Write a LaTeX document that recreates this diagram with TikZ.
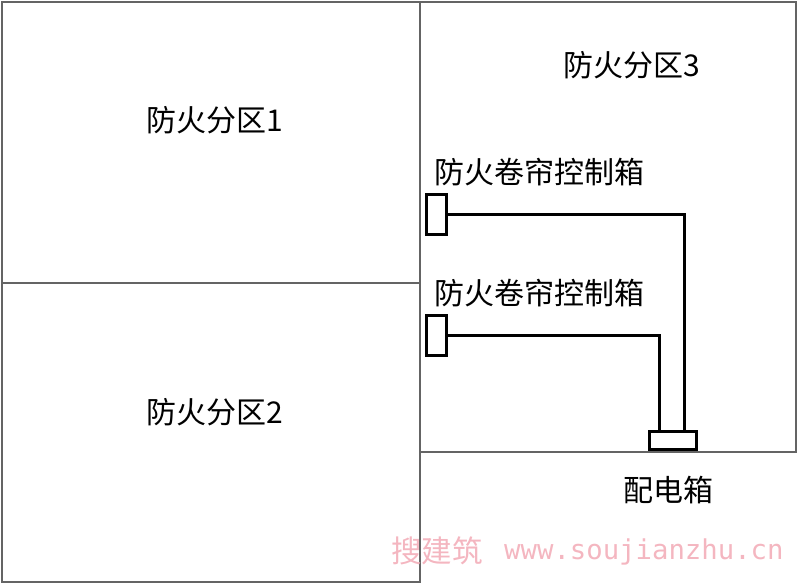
\documentclass[tikz,border=0pt]{standalone}
\usepackage{fontspec}
\setmainfont{Noto Sans CJK SC}
\newfontfamily\cjk{Noto Sans CJK SC}
\newfontfamily\wmmono{DejaVu Sans Mono}
\definecolor{wallgray}{RGB}{100,100,100}
\definecolor{wmpink}{RGB}{244,182,192}
\tikzset{
  wall/.style={draw=wallgray, line width=2pt},
  lbl/.style={font=\cjk\fontsize{30}{32}\selectfont, text=black, inner sep=0pt},
  ctrlbox/.style={draw=black, line width=3pt, fill=white, minimum width=20pt, minimum height=40pt, inner sep=0pt},
  distbox/.style={draw=black, line width=3pt, fill=white, minimum width=47pt, minimum height=18pt, inner sep=0pt},
  wire/.style={draw=black, line width=3pt},
  wm/.style={inner sep=0pt, text=wmpink, anchor=west},
}
\begin{document}
\begin{tikzpicture}[x=1pt,y=-1pt]
\useasboundingbox (0,0) rectangle (800,586);
% zones
\draw[wall] (2,2) rectangle (420,283);
\draw[wall] (2,283) rectangle (420,582);
\draw[wall] (420,2) rectangle (796,452);
\node[lbl] (z1) at (215,120) {防火分区1};
\node[lbl] (z2) at (215,412) {防火分区2};
\node[lbl] (z3) at (632,65) {防火分区3};
% control boxes
\node[ctrlbox] (c1) at (436.5,214.5) {};
\node[ctrlbox] (c2) at (436.5,335) {};
\node[lbl, anchor=west] (t1) at (434,172) {防火卷帘控制箱};
\node[lbl, anchor=west] (t2) at (434,293) {防火卷帘控制箱};
% distribution box
\node[distbox] (pd) at (673,440) {};
\node[lbl] (tp) at (668,490) {配电箱};
\coordinate (p1) at (684,430);
\coordinate (p2) at (659,430);
\draw[wire] (c1.east) -| (p1);
\draw[wire] (c2.east) -| (p2);
% watermark
\node[wm] (wm1) at (391,551) {\cjk\fontsize{30.5}{32}\selectfont 搜建筑};
\node[wm] (wm2) at (504,552) {\wmmono\fontsize{27.3}{30}\selectfont www.soujianzhu.cn};
\end{tikzpicture}
\end{document}
